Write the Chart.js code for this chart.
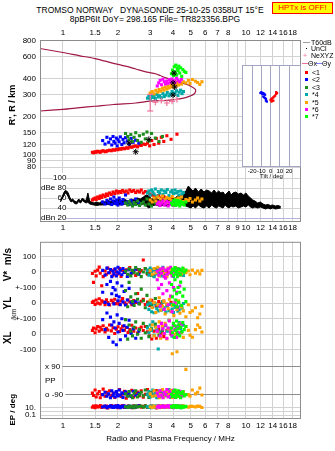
<!DOCTYPE html>
<html lang="en">
<head>
<meta charset="utf-8">
<title>Tromso Dynasonde ionogram</title>
<script src="https://cdn.jsdelivr.net/npm/chart.js@4.4.1/dist/chart.umd.min.js"></script>
<style>
  html, body { margin: 0; padding: 0; background: #fff; }
  body { position: relative; width: 335px; height: 451px; overflow: hidden; font-family: "Liberation Sans", Arial, sans-serif; color: #000; }
  canvas { position: absolute; }
  .txt { position: absolute; white-space: pre; line-height: 1; }
  .hptx { position: absolute; left: 272px; top: 2px; width: 59px; height: 10px; background: #ffff00; border: 1px solid #ff0000; color: #ff0000; font-size: 8px; line-height: 10px; text-align: center; }
  .lg { position: absolute; font-size: 7px; line-height: 7px; white-space: pre; }
  .sw { position: absolute; }
</style>
</head>
<body>
<div class="txt" style="left:0;width:300px;text-align:center;top:6px;font-size:8.5px">TROMSO NORWAY   DYNASONDE 25-10-25 0358UT 15°E</div>
<div class="txt" style="left:0;width:310px;text-align:center;top:15px;font-size:8.5px">8pBP6It DoY= 298.165 File= TR823356.BPG</div>
<div class="hptx">HPTx is OFF!</div>

<canvas id="upperChart" width="335" height="234" style="left:0;top:0"></canvas>
<canvas id="lowerChart" width="335" height="219" style="left:0;top:232px"></canvas>
<canvas id="tiltChart" width="70" height="124" style="left:236px;top:60px"></canvas>
<div class="txt" style="left:8px;top:311px;font-size:7px;transform:rotate(-90deg)">/km</div>
<div id="legend"></div>

<script>
// Frequency axis (log, MHz)
const FREQ_MIN = 0.75;
const FREQ_MAX = 20;
const freqTicksTop = [1, 1.5, 2, 3, 4, 5, 6, 7, 8, 10, 12, 14, 16, 18];
const freqTicksMid = [1, 1.5, 2, 3, 4, 5, 6, 7, 8, 9, 10, 12, 14, 16, 18];
const freqTicksLow = [1, 1.5, 2, 3, 4, 5, 6, 7, 8, 10, 12, 14, 16, 18];

// Panel ticks
const rangeTicks = [800, 600, 400, 300, 200, 150, 120, 100, 90, 80];
const ampTicks = [100, 80, 60, 40, 20];
const ampLabels = ['100', 'dBe 80', '60', '40', 'dBn 20'];
const vstarTicks = [100, 0];
const vstarLabels = ['100', '0'];
const ylTicks = [100, 0, -100];
const ylLabels = ['+-100', '0', '+-100'];
const xlTicks = [0, -100];
const xlLabels = ['0', '-100'];
const ppTicks = [90, 0, -90];
const ppLabels = ['x 90', 'PP', 'o -90'];
const epTicks = [10, 1, 0.1];
const epLabels = ['10.', '', '0.1'];
const tiltTicks = [-20, -10, 0, 10, 20];

// Echo data per mode: freq MHz, R' km, amplitude dB, V* m/s, YL km, XL km, PP deg, EP deg
const freq1 = [1.45,1.47,1.5,1.52,1.55,1.58,1.6,1.63,1.66,1.7,1.73,1.76,1.8,1.84,1.88,1.92,1.96,2.0,2.04,2.08,2.12,2.17,2.22,2.27,2.32,2.38,2.44,2.5,2.56,2.62,2.68,2.75,2.82,2.9,2.98,3.06,3.15,3.24,3.34,3.45,3.56,3.7,3.9,4.2];
const range1 = [105,104,106,105,107,106,105,107,108,106,107,108,109,108,110,109,111,110,112,111,113,112,114,113,116,115,117,118,116,120,119,122,121,124,118,130,121,135,124,138,128,142,133,146];
const amp1 = [56,58,60,57,62,59,64,61,66,63,68,65,70,67,72,69,74,70,73,71,75,72,74,70,76,73,75,71,74,72,76,70,73,71,68,66,64,62,65,60,63,61,58,56];
const vstar1 = [-10,-67,5,-25,12,31,-8,-88,-30,6,-15,25,-5,10,-20,15,0,-12,22,-28,8,-3,14,-18,28,-7,4,-22,16,-2,9,77,20,-14,-10,6,-25,12,-4,18,-15,3,-8,10];
const yl1 = [5,12,-8,20,0,28,-5,15,8,-10,22,3,-12,18,6,25,-3,10,-8,14,30,2,-6,20,9,-10,16,4,62,-4,12,24,-9,7,-15,18,2,-20,10,-5,14,-12,6,-25];
const xl1 = [25,40,10,35,50,20,45,30,55,15,38,28,60,22,42,5,33,48,18,36,52,26,44,12,30,58,20,40,8,35,46,24,50,16,-10,-30,20,-25,30,5,-15,25,0,10];
const pp1 = [-80,-95,-60,-105,-85,-70,-110,-90,-55,-100,-75,-88,-65,-98,-82,-108,-72,-92,-58,-102,-86,-68,-112,-78,-95,-62,-104,-84,-74,-96,-66,-106,-88,-58,-99,-76,-92,-64,-108,-80,-94,-70,-86,-100];
const ep1 = [10,20,8,25,12,15,30,9,18,11,22,7,14,28,10,16,24,8,13,19,27,9,12,21,15,8,26,11,17,30,10,14,23,9,12,20,16,7,25,11,13,18,10,22];

const freq2 = [1.65,1.7,1.74,1.78,1.82,1.85,1.88,1.9,1.93,1.96,1.98,2.0,2.03,2.06,2.1,2.13,2.16,2.2,2.25,2.3,2.36,2.42,2.5,2.6];
const range2 = [130,122,138,126,134,120,140,128,124,136,118,132,127,139,121,133,125,137,129,122,135,126,131,124];
const amp2 = [52,48,55,50,58,47,54,62,49,56,51,46,60,53,48,57,50,66,52,47,55,49,58,51];
const vstar2 = [10,-20,25,-5,15,-30,5,-12,20,-25,0,30,-8,12,-18,22,-3,8,-28,15,-10,2,18,-15];
const yl2 = [70,5,120,-8,140,60,100,-5,85,50,130,15,40,-10,110,8,75,-12,20,95,3,-6,12,0];
const xl2 = [94,30,137,-20,110,60,-50,80,40,-67,125,15,70,-35,100,25,55,-10,45,90,5,35,-25,20];
const pp2 = [-90,-75,-100,-85,-110,-65,-95,-80,-105,-70,-88,-98,-60,-92,-78,-108,-84,-72,-96,-86,-102,-68,-94,-82];
const ep2 = [12,20,8,15,25,10,18,9,22,14,11,28,16,8,19,13,24,10,15,21,9,17,12,26];

const freq3 = [2.2,2.26,2.3,2.35,2.4,2.45,2.5,2.56,2.62,2.68,2.75,2.82,2.88,2.95,3.05,3.2,3.35,3.5];
const range3 = [148,140,132,145,128,138,150,130,142,126,146,134,152,129,148,136,128,140];
const amp3 = [50,46,53,48,44,51,47,54,45,49,52,46,58,48,44,50,47,53];
const vstar3 = [5,-15,20,-25,10,-5,28,-12,15,-30,0,22,-8,12,-20,18,-3,8];
const yl3 = [81,-23,133,40,10,-15,60,25,-5,90,15,-30,50,5,-10,30,-20,8];
const xl3 = [94,-31,60,20,-10,45,80,0,30,-25,70,10,50,-15,35,65,-5,25];
const pp3 = [-85,-100,-70,-95,-110,-80,-65,-105,-90,-75,-98,-60,-88,-108,-78,-94,-72,-102];
const ep3 = [14,9,22,11,18,8,26,12,16,20,10,24,13,9,19,15,28,11];

const freq4 = [2.9,2.95,3.0,3.05,3.1,3.15,3.2,3.26,3.32,3.38,3.45,3.52,3.58,3.65,3.72,3.8,3.88,3.95,4.02,4.1,4.18,4.25,4.32,4.4,4.48,4.56];
const range4 = [282,290,278,298,285,292,280,302,288,295,284,306,290,298,312,294,304,318,300,310,322,296,314,326,306,318];
const amp4 = [70,74,66,76,72,68,78,64,73,70,76,67,74,71,77,65,72,75,69,76,70,73,66,74,68,71];
const vstar4 = [10,-20,25,-5,15,-30,5,-12,20,0,-25,30,-8,12,-18,22,-3,8,-28,15,-10,2,18,-15,6,-22];
const yl4 = [-10,-40,0,-55,-25,-62,-5,-35,-50,-15,-45,5,-30,-58,-20,-48,-8,-38,-60,-28,-12,-52,-42,-18,-33,-2];
const xl4 = [40,10,60,25,80,-5,50,30,-94,15,70,45,5,55,20,90,35,-12,65,28,48,8,75,38,18,58];
const pp4 = [-90,-70,-105,-85,-60,-98,-78,-110,-92,-66,-102,-82,-74,-96,-88,-58,-108,-80,-94,-68,-100,-86,-76,-104,-90,-72];
const ep4 = [15,10,22,8,18,12,25,9,14,20,11,28,16,9,21,13,17,24,10,19,12,26,15,8,20,13];

const freq5 = [3.0,3.08,3.15,3.22,3.3,3.36,3.42,3.5,3.56,3.62,3.7,3.76,3.82,3.9,3.96,4.04,4.12,4.2,4.28,4.36,4.45,4.55,4.7,4.85,4.95,5.1,5.3,5.45,5.6,5.75];
const range5 = [310,318,305,325,315,330,320,338,326,345,332,350,340,356,346,362,352,370,358,376,364,380,372,390,368,396,384,375,362,380];
const amp5 = [56,52,60,54,62,50,58,64,53,57,61,51,59,55,63,52,58,54,60,56,62,53,57,55,59,52,56,60,54,58];
const vstar5 = [8,-15,22,-5,30,-25,12,-10,18,0,-30,25,-8,15,-20,5,28,-12,10,-22,-12,20,-5,6,-18,12,-8,6,-12,10];
const yl5 = [20,-30,5,-60,-10,35,-45,-20,10,-70,-5,-35,25,-55,-15,-80,0,-40,15,-65,-25,-50,-87,-10,-60,-50,-30,-94,-70,-20];
const xl5 = [30,60,-10,45,15,80,-25,50,5,70,-30,35,90,20,-125,55,0,-112,40,65,10,-20,50,25,-5,-19,30,60,44,15];
const pp5 = [-85,-100,-65,-95,-75,-110,-90,-58,-105,-80,-70,-98,-88,-62,-108,-78,-94,-68,-102,-84,-96,-72,71,-90,-100,-60,-85,-75,-48,-92];
const ep5 = [14,9,22,12,18,8,25,11,16,20,10,28,13,19,9,24,15,11,21,17,12,26,14,10,18,17,13,20,17,9];

const freq6 = [3.28,3.34,3.4,3.46,3.52,3.58,3.64,3.7,3.76,3.82,3.88,3.95,4.02,4.1,4.18,4.26,4.35,4.45];
const range6 = [352,372,390,360,398,380,365,385,370,395,378,400,388,375,405,392,380,398];
const amp6 = [48,52,45,50,54,46,49,53,44,51,47,52,45,50,48,53,46,49];
const vstar6 = [5,-20,15,-8,25,-30,10,-15,20,-5,30,-25,0,12,-10,22,-18,8];
const yl6 = [150,95,-20,120,60,-40,160,80,-10,130,45,-55,100,5,70,-30,110,-15];
const xl6 = [20,50,-10,70,35,5,60,-25,40,85,15,-5,55,30,-20,45,10,65];
const pp6 = [-80,-100,-65,-92,-110,-75,-88,-58,-104,-70,-96,-84,-62,-108,-78,-94,-68,-100];
const ep6 = [12,20,9,16,24,10,18,14,28,11,22,15,8,19,13,25,10,17];

const freq7 = [3.92,3.97,4.02,4.06,4.1,4.14,4.18,4.22,4.26,4.3,4.35,4.4,4.46,4.52,4.6,4.7];
const range7 = [440,470,425,500,455,515,430,485,465,505,445,490,420,475,460,450];
const amp7 = [50,46,54,48,56,45,52,47,55,49,44,53,48,51,46,52];
const vstar7 = [-5,18,-22,10,28,-12,4,-30,20,-8,14,-18,6,25,-2,12];
const yl7 = [120,40,-10,85,150,20,60,-25,100,5,70,135,-15,45,90,10];
const xl7 = [40,10,70,-20,55,25,85,0,35,60,-10,45,15,75,30,50];
const pp7 = [-88,-102,-70,-95,-60,-108,-80,-92,-66,-100,-76,-110,-84,-72,-98,-90];
const ep7 = [15,10,24,12,18,28,9,20,14,11,22,16,8,19,13,17];

// T60dB amplitude band (upper and lower envelope)
const t60Freq = [0.97,0.99,1.01,1.03,1.05,1.07,1.09,1.11,1.13,1.16,1.19,1.22,1.25,1.28,1.31,1.34,1.37,1.4,1.44,1.48,1.53,1.58,1.64,1.7,1.76,1.82,1.88,1.95,2.02,2.1,2.18,2.27,2.36,2.45,2.55,2.65,2.75,2.85,2.95,3.05,3.2,3.35,3.5,3.7,3.9,4.1,4.3,4.5,4.7,4.85,5.0,5.15,5.3,5.5,5.7,5.9,6.1,6.3,6.5,6.7,6.9,7.1,7.3,7.5,7.7,7.9,8.1,8.3,8.5,8.8,9.1,9.4,9.7,10.0,10.3,10.6,10.9,11.2,11.6,12.0,12.4,12.8,13.2,13.6,14.0,14.5,15.0,15.5];
const t60Hi = [55,62,70,75,74,70,62,56,58,54,52,58,54,60,56,55,70,54,52,50,52,50,54,52,55,53,56,54,58,55,57,54,58,56,60,58,62,66,64,58,60,56,58,56,58,60,66,64,74,84,78,74,80,72,78,72,76,74,70,76,70,74,70,72,66,70,74,66,70,72,68,70,66,70,64,60,56,54,50,52,48,46,47,45,46,44,45,43];
const t60Lo = [52,58,64,70,68,62,56,52,54,49,48,53,50,55,52,50,52,48,47,46,45,46,46,47,47,46,48,46,47,46,48,46,47,46,47,45,48,44,40,44,46,44,45,44,46,46,48,46,44,42,40,44,40,46,42,40,44,40,46,42,40,44,42,40,46,42,40,44,42,44,40,42,44,42,46,42,40,42,40,42,40,38,40,38,40,38,39,40];

// Model curve in the R' panel
const curveFreq = [0.75,1.0,1.24,1.5,1.89,2.2,2.5,2.88,3.2,3.4,3.62,3.96,4.39,4.85,5.3,5.23,4.73,4.17,3.68,3.0,2.5,1.89,1.5,1.24,1.0,0.75];
const curveRange = [697,648,610,580,532,505,480,453,440,426,410,392,376,358,330,305,286,276,271,267,258,251,243,237,230,223];

// NeXYZ marks and cluster centre marks
const neFreq = [3.2, 3.45, 3.7, 3.95, 4.2];
const neRange = [262, 270, 258, 266, 275];
const neBarFreq = [3.0, 3.0];
const neBarRange = [223, 302];
const markFreq = [4.05, 4.0, 4.08, 4.0, 2.5, 2.3, 2.95];
const markRange = [445, 372, 345, 298, 106, 124, 133];

// Tilt inset (deg)
const tiltRedX = [6,7,6,5,4,3,2,1,0,2,1,3];
const tiltRedY = [28,27,26,24,23,22,21,20,19,18,17,18];
const tiltBlueX = [-11,-10,-9,-8,-7,-6,-8,-7,-6,-5,-5,-4];
const tiltBlueY = [27,28,26,27,26,25,23,22,21,20,18,17];

// Styles
const GRID = '#d2d2d2';
const FRAME = '#8c8c8c';
const CURVE = '#a01848';
const NE_PINK = '#f07098';
const ECHO_SIZE = 2.2;

const modes = [
  { name: '<1', color: '#ff0000', freq: freq1, range: range1, amp: amp1, vstar: vstar1, yl: yl1, xl: xl1, pp: pp1, ep: ep1 },
  { name: '<2', color: '#0000ff', freq: freq2, range: range2, amp: amp2, vstar: vstar2, yl: yl2, xl: xl2, pp: pp2, ep: ep2 },
  { name: '<3', color: '#1e8c1e', freq: freq3, range: range3, amp: amp3, vstar: vstar3, yl: yl3, xl: xl3, pp: pp3, ep: ep3 },
  { name: '*4', color: '#00a8a8', freq: freq4, range: range4, amp: amp4, vstar: vstar4, yl: yl4, xl: xl4, pp: pp4, ep: ep4 },
  { name: '*5', color: '#ffa200', freq: freq5, range: range5, amp: amp5, vstar: vstar5, yl: yl5, xl: xl5, pp: pp5, ep: ep5 },
  { name: '*6', color: '#ff00ff', freq: freq6, range: range6, amp: amp6, vstar: vstar6, yl: yl6, xl: xl6, pp: pp6, ep: ep6 },
  { name: '*7', color: '#00ff00', freq: freq7, range: range7, amp: amp7, vstar: vstar7, yl: yl7, xl: xl7, pp: pp7, ep: ep7 }
];

Chart.defaults.font.family = '"Liberation Sans", Arial, sans-serif';
Chart.defaults.font.size = 8;
Chart.defaults.color = '#000';

function pairs(xs, ys) {
  return xs.map((x, i) => ({ x, y: ys[i] }));
}

function fixedTicks(values) {
  return axis => { axis.ticks = values.map(value => ({ value })); };
}

function tickText(values, labels) {
  return value => {
    const i = values.indexOf(value);
    return i < 0 ? '' : labels[i];
  };
}

function echoSet(mode, key, axis, order, radius) {
  return {
    label: mode.name,
    data: pairs(mode.freq, mode[key]),
    yAxisID: axis,
    pointStyle: 'rect',
    pointRadius: radius,
    pointBorderWidth: 0,
    pointBackgroundColor: mode.color,
    backgroundColor: mode.color,
    order
  };
}

function freqAxis(ticks, position, height, padding) {
  return {
    type: 'logarithmic',
    position,
    min: FREQ_MIN,
    max: FREQ_MAX,
    afterBuildTicks: fixedTicks(ticks),
    afterFit: axis => { axis.height = height; },
    ticks: { padding, maxRotation: 0, autoSkip: false, callback: v => String(v) },
    grid: { color: GRID, drawTicks: false },
    border: { display: false }
  };
}

function panelAxis(cfg) {
  return {
    type: cfg.type || 'linear',
    position: 'left',
    stack: cfg.stack,
    stackWeight: cfg.height,
    weight: cfg.weight,
    min: cfg.min,
    max: cfg.max,
    clip: false,
    afterBuildTicks: fixedTicks(cfg.ticks),
    afterFit: axis => { axis.width = 40; },
    ticks: Object.assign({ padding: 4, autoSkip: false, callback: tickText(cfg.ticks, cfg.labels) }, cfg.tickOpts || {}),
    grid: { color: cfg.gridColor || GRID, drawTicks: false },
    border: { display: false },
    title: cfg.title
      ? { display: true, text: cfg.title, font: { size: cfg.titleSize || 10, weight: 'bold' }, padding: { top: cfg.titlePad || 2 } }
      : { display: false }
  };
}

// Draws the panel frame (and optional background) round the chart area
const framePlugin = {
  id: 'frame',
  beforeDraw(chart, args, opts) {
    if (!opts.fill) return;
    const a = chart.chartArea;
    chart.ctx.save();
    chart.ctx.fillStyle = opts.fill;
    chart.ctx.fillRect(a.left, a.top, a.right - a.left, a.bottom - a.top);
    chart.ctx.restore();
  },
  afterDatasetsDraw(chart, args, opts) {
    const a = chart.chartArea;
    const ctx = chart.ctx;
    ctx.save();
    ctx.strokeStyle = opts.color || FRAME;
    ctx.lineWidth = 1;
    ctx.strokeRect(a.left + 0.5, a.top + 0.5, a.right - a.left - 1, a.bottom - a.top - 1);
    ctx.restore();
  }
};

const baseOptions = {
  responsive: false,
  animation: false,
  devicePixelRatio: 1,
  events: []
};

// Upper frame: R' and amplitude panels
const upperSets = [];
modes.forEach((m, i) => {
  upperSets.push(echoSet(m, 'range', 'range', 10 - i, ECHO_SIZE));
  upperSets.push(echoSet(m, 'amp', 'amp', 10 - i, ECHO_SIZE));
});
upperSets.push({
  data: pairs(curveFreq, curveRange), yAxisID: 'range', showLine: true,
  borderColor: CURVE, borderWidth: 1.2, tension: 0.3, pointRadius: 0, order: 15
});
upperSets.push({
  data: pairs(neBarFreq, neBarRange), yAxisID: 'range', showLine: true,
  borderColor: NE_PINK, borderWidth: 1.2, pointStyle: 'line', pointRadius: 3, pointBorderColor: NE_PINK, order: 2
});
upperSets.push({
  data: pairs(neFreq, neRange), yAxisID: 'range', pointStyle: 'cross',
  pointRadius: 3, pointBorderColor: NE_PINK, pointBorderWidth: 1.2, order: 2
});
upperSets.push({
  data: pairs(markFreq, markRange), yAxisID: 'range', pointStyle: 'star',
  pointRadius: 3, pointBorderColor: '#000', pointBorderWidth: 1, order: 1
});
upperSets.push({
  data: pairs(t60Freq, t60Lo), yAxisID: 'amp', showLine: true,
  borderColor: '#000', borderWidth: 1, pointRadius: 0, fill: false, order: 20
});
upperSets.push({
  data: pairs(t60Freq, t60Hi), yAxisID: 'amp', showLine: true,
  borderColor: '#000', borderWidth: 1, pointRadius: 0, fill: '-1', backgroundColor: '#000', order: 20
});

new Chart(document.getElementById('upperChart'), {
  type: 'scatter',
  data: { datasets: upperSets },
  options: Object.assign({}, baseOptions, {
    layout: { padding: { left: 0, right: 34, top: 0, bottom: 0 } },
    plugins: { legend: { display: false }, tooltip: { enabled: false }, frame: {} },
    scales: {
      x: freqAxis(freqTicksMid, 'bottom', 12, 1),
      xTop: Object.assign(freqAxis(freqTicksTop, 'top', 40, 2), { grid: { display: false, drawTicks: false } }),
      range: panelAxis({
        type: 'logarithmic', stack: 'upper', height: 130, weight: 2, min: 76, max: 814,
        ticks: rangeTicks, labels: rangeTicks.map(String), title: "R', R / km", titleSize: 9, titlePad: 7
      }),
      amp: panelAxis({
        stack: 'upper', height: 52, weight: 1, min: 12, max: 116,
        ticks: ampTicks, labels: ampLabels,
        gridColor: ctx => (ctx.tick && ctx.tick.value === 20 ? '#b4b4dc' : GRID),
        tickOpts: { mirror: true, crossAlign: 'far', padding: 1, showLabelBackdrop: true, backdropColor: '#fff', backdropPadding: 0 }
      })
    }
  }),
  plugins: [framePlugin]
});

// Lower frame: V*, YL, XL, PP and EP panels
const lowerSets = [];
modes.forEach((m, i) => {
  ['vstar', 'yl', 'xl', 'pp', 'ep'].forEach(key => {
    lowerSets.push(echoSet(m, key, key, 10 - i, ECHO_SIZE));
  });
});

const lowerX = freqAxis(freqTicksLow, 'bottom', 32, 2);
lowerX.title = { display: true, text: 'Radio and Plasma Frequency / MHz', font: { size: 8 }, padding: { top: 0, bottom: 7 } };

new Chart(document.getElementById('lowerChart'), {
  type: 'scatter',
  data: { datasets: lowerSets },
  options: Object.assign({}, baseOptions, {
    layout: { padding: { left: 0, right: 34, top: 5, bottom: 0 } },
    plugins: { legend: { display: false }, tooltip: { enabled: false }, frame: {} },
    scales: {
      x: lowerX,
      vstar: panelAxis({ stack: 'lower', height: 47, weight: 5, min: -100, max: 193.75, ticks: vstarTicks, labels: vstarLabels, title: 'V*  m/s' }),
      yl: panelAxis({ stack: 'lower', height: 32, weight: 4, min: -100, max: 100, ticks: ylTicks, labels: ylLabels, title: 'YL' }),
      xl: panelAxis({ stack: 'lower', height: 39, weight: 3, min: -143.75, max: 100, ticks: xlTicks, labels: xlLabels, title: 'XL' }),
      pp: panelAxis({
        stack: 'lower', height: 45, weight: 2, min: -127.2, max: 152.1,
        ticks: ppTicks, labels: ppLabels,
        gridColor: ctx => (ctx.tick && ctx.tick.value === 0 ? 'rgba(0,0,0,0)' : '#8c8c8c'),
        tickOpts: { mirror: true, crossAlign: 'near', padding: 5, showLabelBackdrop: true, backdropColor: '#fff', backdropPadding: { left: 5, right: 2, top: 1, bottom: 1 } }
      }),
      ep: panelAxis({
        type: 'logarithmic', stack: 'lower', height: 19, weight: 1, min: 0.01, max: 562,
        ticks: epTicks, labels: epLabels, title: 'EP / deg', titleSize: 8, titlePad: 8
      })
    }
  }),
  plugins: [framePlugin]
});

// Tilt inset
new Chart(document.getElementById('tiltChart'), {
  type: 'scatter',
  data: {
    datasets: [
      { data: pairs(tiltRedX, tiltRedY), pointStyle: 'rect', pointRadius: 1.6, pointBorderWidth: 0, pointBackgroundColor: '#ff0000' },
      { data: pairs(tiltBlueX, tiltBlueY), pointStyle: 'rect', pointRadius: 1.6, pointBorderWidth: 0, pointBackgroundColor: '#0000ff' }
    ]
  },
  options: Object.assign({}, baseOptions, {
    layout: { padding: { left: 6, right: 5, top: 5, bottom: 0 } },
    plugins: { legend: { display: false }, tooltip: { enabled: false }, frame: { color: '#a4a4c4', fill: '#fff' } },
    scales: {
      x: {
        type: 'linear', min: -31, max: 33,
        afterBuildTicks: fixedTicks(tiltTicks),
        afterFit: axis => { axis.height = 17; },
        ticks: { font: { size: 6 }, padding: 1, maxRotation: 0, autoSkip: false },
        grid: { color: '#a4a4c4', drawTicks: false },
        border: { display: false },
        title: { display: true, text: 'Tilt / deg', font: { size: 6 }, padding: { top: 0, bottom: 4 } }
      },
      y: { display: false, min: -60, max: 60 }
    }
  }),
  plugins: [framePlugin]
});

// Legend on the right
const legend = document.getElementById('legend');
legend.insertAdjacentHTML('beforeend', `
  <div class="sw" style="left:303px;top:42px;width:7px;height:1px;background:#a0a0a0"></div>
  <div class="lg" style="left:311px;top:39px">T60dB</div>
  <div class="sw" style="left:306px;top:48px;width:1px;height:1px;background:#000"></div>
  <div class="lg" style="left:311px;top:45px">UnCl</div>
  <div class="lg" style="left:303px;top:52px;color:${NE_PINK}">+</div>
  <div class="lg" style="left:311px;top:52px">NeXYZ</div>
  <div class="sw" style="left:302px;top:63px;width:6px;height:1px;background:${NE_PINK}"></div>
  <div class="lg" style="left:308px;top:60px">&Theta;x</div>
  <div class="sw" style="left:316px;top:63px;width:6px;height:1px;background:#8080ff"></div>
  <div class="lg" style="left:322px;top:60px">&Theta;y</div>
`);
modes.forEach((m, i) => {
  const y = 71 + i * 7.4;
  legend.insertAdjacentHTML('beforeend', `
    <div class="sw" style="left:305px;top:${y.toFixed(1)}px;width:3px;height:3px;background:${m.color}"></div>
    <div class="lg" style="left:312px;top:${(y - 2).toFixed(1)}px">${m.name.replace('<', '&lt;')}</div>
  `);
});
</script>
</body>
</html>
